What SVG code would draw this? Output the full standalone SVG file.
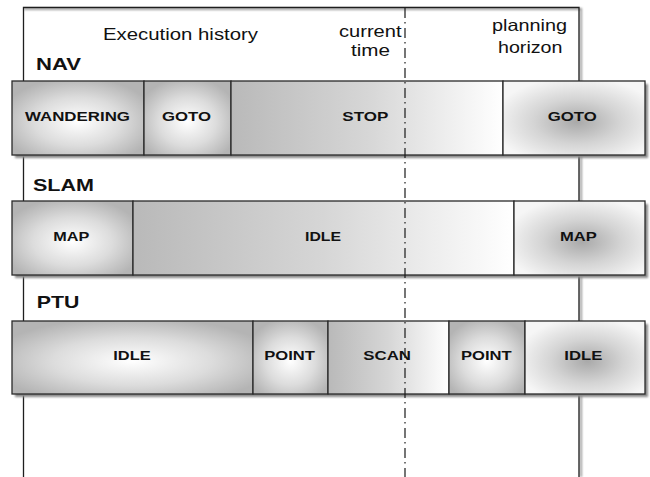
<svg xmlns="http://www.w3.org/2000/svg" width="650" height="477" viewBox="0 0 650 477">
<defs>
<style>
.cell{stroke:#2a2a2a;stroke-width:1.3}
.t{font-family:"Liberation Sans",Arial,Helvetica,sans-serif;fill:#111}
.lbl{font-weight:bold;font-size:13.5px}
.row{font-weight:bold;font-size:17px}
.note{font-size:16.5px}
.frame{fill:none;stroke:#1e1e1e;stroke-width:1.3}
.fshadow{fill:none;stroke:#9a9a9a;stroke-width:2;filter:url(#blur)}
.shadow{fill:#8a8a8a;filter:url(#blur)}
.now{fill:none;stroke:#1a1a1a;stroke-width:1.2;stroke-dasharray:10 4 1.5 4.5}
</style>
<filter id="blur" x="-5%" y="-20%" width="110%" height="140%"><feGaussianBlur stdDeviation="1"/></filter>
<radialGradient id="radWhite" cx="50%" cy="55%" r="60%">
<stop offset="0" stop-color="#ffffff"/>
<stop offset="0.55" stop-color="#dcdcdc"/>
<stop offset="1" stop-color="#b4b4b4"/>
</radialGradient>
<radialGradient id="radGray" cx="52%" cy="55%" r="60%">
<stop offset="0" stop-color="#a9a9a9"/>
<stop offset="0.5" stop-color="#d4d4d4"/>
<stop offset="1" stop-color="#f6f6f6"/>
</radialGradient>
<linearGradient id="linGray" x1="0" y1="0" x2="1" y2="0">
<stop offset="0" stop-color="#b9b9b9"/>
<stop offset="0.5" stop-color="#d6d6d6"/>
<stop offset="1" stop-color="#ffffff"/>
</linearGradient>
</defs>
<rect width="650" height="477" fill="#ffffff"/>

<g id="frame">
<path class="fshadow" d="M24 9 H581 V477"/>
<path class="frame" d="M23.5 477 V7.5 H579 V477"/>
</g>

<g id="headers">
<text class="t note" x="103" y="40" textLength="155" lengthAdjust="spacingAndGlyphs">Execution history</text>
<text class="t note" x="339" y="36.5" textLength="62.5" lengthAdjust="spacingAndGlyphs">current</text>
<text class="t note" x="351" y="56" textLength="39" lengthAdjust="spacingAndGlyphs">time</text>
<text class="t note" x="492" y="31" textLength="75" lengthAdjust="spacingAndGlyphs">planning</text>
<text class="t note" x="498" y="53" textLength="64.5" lengthAdjust="spacingAndGlyphs">horizon</text>
</g>

<g id="row-labels">
<text class="t row" x="36" y="70" textLength="45" lengthAdjust="spacingAndGlyphs">NAV</text>
<text class="t row" x="33" y="190.7" textLength="61" lengthAdjust="spacingAndGlyphs">SLAM</text>
<text class="t row" x="36.7" y="308.3" textLength="42.6" lengthAdjust="spacingAndGlyphs">PTU</text>
</g>

<g id="shadows">
<rect class="shadow" x="15" y="84" width="633" height="74"/>
<rect class="shadow" x="15" y="204" width="633" height="74"/>
<rect class="shadow" x="15" y="324" width="633" height="73"/>
</g>

<g id="nav-wandering">
<rect class="cell" x="12" y="81" width="132" height="74" fill="url(#radWhite)"/>
<text class="t lbl" x="25" y="120.5" textLength="105" lengthAdjust="spacingAndGlyphs">WANDERING</text>
</g>
<g id="nav-goto-1">
<rect class="cell" x="144" y="81" width="87" height="74" fill="url(#radWhite)"/>
<text class="t lbl" x="162" y="120.5" textLength="49" lengthAdjust="spacingAndGlyphs">GOTO</text>
</g>
<g id="nav-stop">
<rect class="cell" x="231" y="81" width="272" height="74" fill="url(#linGray)"/>
<text class="t lbl" x="342.3" y="120.5" textLength="46" lengthAdjust="spacingAndGlyphs">STOP</text>
</g>
<g id="nav-goto-2">
<rect class="cell" x="503" y="81" width="142" height="74" fill="url(#radGray)"/>
<text class="t lbl" x="547.7" y="120.5" textLength="49" lengthAdjust="spacingAndGlyphs">GOTO</text>
</g>

<g id="slam-map-1">
<rect class="cell" x="12" y="201" width="121" height="74" fill="url(#radWhite)"/>
<text class="t lbl" x="53.3" y="240.7" textLength="36" lengthAdjust="spacingAndGlyphs">MAP</text>
</g>
<g id="slam-idle">
<rect class="cell" x="133" y="201" width="381" height="74" fill="url(#linGray)"/>
<text class="t lbl" x="305" y="240.7" textLength="36" lengthAdjust="spacingAndGlyphs">IDLE</text>
</g>
<g id="slam-map-2">
<rect class="cell" x="514" y="201" width="131" height="74" fill="url(#radGray)"/>
<text class="t lbl" x="560" y="240.7" textLength="36.7" lengthAdjust="spacingAndGlyphs">MAP</text>
</g>

<g id="ptu-idle-1">
<rect class="cell" x="12" y="321" width="241" height="73" fill="url(#radWhite)"/>
<text class="t lbl" x="113.3" y="360" textLength="37.4" lengthAdjust="spacingAndGlyphs">IDLE</text>
</g>
<g id="ptu-point-1">
<rect class="cell" x="253" y="321" width="75" height="73" fill="url(#radWhite)"/>
<text class="t lbl" x="264.3" y="360" textLength="50.7" lengthAdjust="spacingAndGlyphs">POINT</text>
</g>
<g id="ptu-scan">
<rect class="cell" x="328" y="321" width="121" height="73" fill="url(#linGray)"/>
<text class="t lbl" x="363.3" y="360" textLength="47.7" lengthAdjust="spacingAndGlyphs">SCAN</text>
</g>
<g id="ptu-point-2">
<rect class="cell" x="449" y="321" width="76" height="73" fill="url(#radWhite)"/>
<text class="t lbl" x="461" y="360" textLength="50.7" lengthAdjust="spacingAndGlyphs">POINT</text>
</g>
<g id="ptu-idle-2">
<rect class="cell" x="525" y="321" width="120" height="73" fill="url(#radGray)"/>
<text class="t lbl" x="564.3" y="360" textLength="38" lengthAdjust="spacingAndGlyphs">IDLE</text>
</g>

<g id="connectors">
<path class="now" d="M405 8 V477"/>
</g>
</svg>
